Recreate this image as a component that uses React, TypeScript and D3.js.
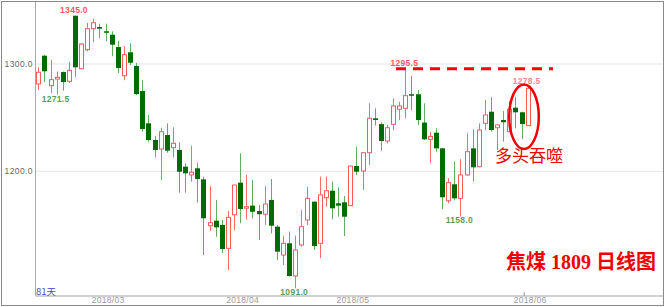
import React from "react";
import * as d3 from "d3";

const opens = [1281.4,1307.7,1279.8,1286,1292.5,1283.9,1345,1295.6,1313.3,1332.9,1334.5,1330.5,1327.3,1315.8,1289.1,1310.9,1298.1,1274.8,1244.7,1229.2,1220.8,1233.8,1222,1219.9,1204.3,1196.6,1202.8,1192.5,1149.3,1154,1150,1128.2,1159.5,1189.4,1166,1168,1163,1160,1173.3,1148.4,1122,1132.9,1102.4,1131.3,1154.6,1171.7,1132.9,1175.4,1181.9,1170.2,1171.1,1168,1204.9,1200.3,1217.3,1249.4,1244,1228.2,1243.8,1257.8,1258.7,1271.8,1271.8,1245.4,1229.8,1236,1221.4,1172.6,1187.9,1174.8,1196.6,1221.4,1204.3,1244.7,1255.5,1240.6,1247.8,1236.9,1259.3,1255,1242.5];
const highs = [1296.9,1308.7,1304,1293,1293,1301.9,1345,1319.6,1338.2,1342.2,1337.6,1337.6,1330.5,1321.2,1316.5,1319.3,1301,1285,1252.5,1232.9,1240.6,1244.7,1241,1227,1207.5,1223.9,1208,1195,1186.3,1173.3,1154.6,1163,1187.2,1216.8,1196.6,1191.9,1168.6,1186.3,1192.8,1150,1140,1143.8,1140,1163.9,1185.6,1172,1195,1195,1190.3,1185,1177,1205,1222.9,1217.3,1263.4,1258.7,1245.7,1243.2,1268,1264.9,1295.5,1288.8,1275.8,1263.4,1236.9,1240,1222,1193.5,1209,1211.2,1235.4,1239,1244.7,1266.4,1269,1243.8,1256.2,1265.5,1269.5,1255.5,1278.5];
const lows = [1276,1283.2,1273,1271.5,1275.1,1282.3,1287.9,1295,1311.8,1320.2,1324.2,1321.2,1307.2,1291.6,1284.8,1299,1271,1236.9,1227.6,1213,1191.9,1217.3,1212.7,1180.1,1180.1,1190.3,1170.8,1122,1144.6,1139,1123.6,1108,1145,1151.5,1155,1156.2,1136,1150,1142.2,1117.3,1112.7,1102,1091,1129.7,1150,1126.7,1119,1167,1155.3,1157.7,1139.7,1168,1196.6,1182.6,1205.9,1242.5,1219.2,1226,1238.5,1247.8,1249.4,1257.1,1243.2,1229.2,1207.5,1218.3,1164.6,1170.2,1173,1158,1196,1190.3,1203.7,1238.5,1237,1219.9,1227.6,1236.5,1240.1,1229.8,1242.5];
const closes = [1292.3,1293.2,1285.4,1287.6,1283.2,1294.1,1296.9,1318.6,1332.9,1338.5,1332.9,1329.5,1318,1296.3,1308.7,1301.2,1272,1239.4,1229.2,1219.9,1236.9,1219.2,1226.1,1199.6,1198.1,1199.1,1192.8,1156.2,1152.1,1147.8,1127.6,1157.1,1187.2,1164.9,1167,1162.3,1160,1169.5,1149.3,1125.1,1132.9,1102.4,1126.7,1148.4,1174.8,1130.4,1178,1181.9,1165.5,1168,1157.7,1204.9,1199.6,1217.3,1249.4,1247.8,1228.2,1240.6,1260.9,1260.9,1270.5,1271.1,1247.8,1229.8,1232.4,1221.4,1175.8,1189.4,1174.8,1196.6,1218.3,1203.7,1238.5,1252.5,1238.5,1243.2,1245.7,1257.8,1255,1244,1277.4];

const yTicks = [1300, 1200];
const yTickLabels = ["1300.0", "1200.0"];
const monthIdx = [11, 33, 51, 80];
const monthLabels = ["2018/03", "2018/04", "2018/05", "2018/06"];
const extremes = [
  { i: 6, v: 1345.0, kind: "high" },
  { i: 3, v: 1271.5, kind: "low" },
  { i: 42, v: 1091.0, kind: "low" },
  { i: 60, v: 1295.5, kind: "high" },
  { i: 69, v: 1158.0, kind: "low" },
  { i: 80, v: 1278.5, kind: "high" },
];
const resistance = 1295.5;
const dayCountLabel = "81天";
const patternLabel = "多头吞噬";
const titleLabel = "焦煤 1809 日线图";

export default function App() {
  const W = 666, H = 307;
  const x = d3.scaleLinear().domain([0, opens.length - 1]).range([38.3, 527.7]);
  const y = d3.scaleLinear().domain([1200, 1300]).range([171.3, 64]);
  const plotL = 35.5, plotR = 663, plotB = 296;
  const up = "#ff5a5a", upWick = "#ff6a6a", dn = "#006b00", dnWick = "#62ad62";
  const bw = 5;
  return (
    <svg width={W} height={H} style={{ position: "absolute", left: 0, top: 0, background: "#fff" }}
      fontFamily="Liberation Sans, Arial, sans-serif">
      <rect x={1.5} y={1.5} width={662} height={304} fill="#fff" stroke="#8a8a8a" />
      {yTicks.map((t, k) => (
        <g key={t}>
          <line x1={plotL} x2={plotR} y1={y(t)} y2={y(t)} stroke="#ececec" strokeWidth={1.3} />
          <text x={33} y={y(t) + 3} textAnchor="end" fontSize={8.5} fill="#666" letterSpacing={0.4}>{yTickLabels[k]}</text>
        </g>
      ))}
      <line x1={plotL} x2={plotL} y1={2} y2={plotB} stroke="#a8a8a8" />
      <line x1={plotL} x2={plotR} y1={plotB} y2={plotB} stroke="#d0d0d0" strokeWidth={2} />
      {monthIdx.map((m, k) => (
        <text key={k} x={x(m) + 2.5} y={303} textAnchor="middle" fontSize={8.5} fill="#999" letterSpacing={0.3}>{monthLabels[k]}</text>
      ))}
      <line x1={x(80) - 3.5} x2={x(80) - 3.5} y1={292} y2={296} stroke="#999" />
      {opens.map((o, i) => {
        const c = closes[i];
        const isUp = c >= o;
        const cx = Math.round(x(i)) + 0.5;
        const top = y(Math.max(o, c));
        const bot = y(Math.min(o, c));
        const h = Math.max(1.5, bot - top);
        return (
          <g key={i}>
            <line x1={cx} x2={cx} y1={y(highs[i])} y2={y(lows[i])} stroke={isUp ? upWick : dnWick} strokeWidth={1} />
            {isUp ? (
              <rect x={cx - bw / 2 + 0.5} y={top} width={bw - 1} height={h} fill="#fff" stroke={up} strokeWidth={1} />
            ) : (
              <rect x={cx - bw / 2} y={top} width={bw} height={h} fill={dn} />
            )}
          </g>
        );
      })}
      {extremes.map((e, k) => (
        <text key={k} x={x(e.i) - 1} y={e.kind === "high" ? y(e.v) - 3 : y(e.v) + 7}
          textAnchor="middle" fontSize={8.5} fontWeight="bold" letterSpacing={0.3}
          fill={e.kind === "high" ? (e.i === 80 ? "#f58a8a" : "#f25a5a") : "#5a9e5a"}>{e.v.toFixed(1)}</text>
      ))}
      <line x1={396} x2={553} y1={y(resistance)} y2={y(resistance)} stroke="#ff0000" strokeWidth={3} strokeDasharray="10 7" />
      <ellipse cx={524} cy={116.7} rx={14.8} ry={32.3} fill="none" stroke="#f00000" strokeWidth={2.5} />
      <text x={495} y={162} fontSize={17} fill="#f00000" fontFamily="Noto Sans CJK SC">{patternLabel}</text>
      <text x={36} y={295} fontSize={9.5} fill="#4a4ac0" fontFamily="Noto Sans CJK SC, Liberation Sans">{dayCountLabel}</text>
      <text x={506} y={269} fontSize={20} fontWeight="bold" fill="#f00000" fontFamily="Liberation Serif, Noto Sans CJK SC">{titleLabel}</text>
    </svg>
  );
}
